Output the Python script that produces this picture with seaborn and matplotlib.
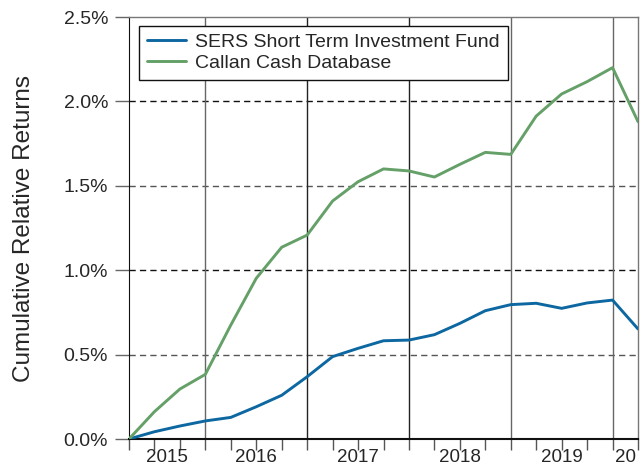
import numpy as np
import pandas as pd
import matplotlib
matplotlib.use("Agg")
import matplotlib.pyplot as plt
import seaborn as sns

# Quarterly cumulative relative returns (in %), starting 2015 Q1 end
quarters = [2015.25 + 0.25 * i for i in range(21)]
sers_fund = [0.000, 0.043, 0.077, 0.107, 0.128, 0.191, 0.259, 0.369, 0.488,
             0.537, 0.582, 0.586, 0.618, 0.685, 0.760, 0.796, 0.804, 0.774,
             0.806, 0.823, 0.652]
callan_cash = [0.000, 0.162, 0.296, 0.383, 0.675, 0.952, 1.136, 1.208, 1.410,
               1.524, 1.600, 1.588, 1.552, 1.627, 1.698, 1.686, 1.913, 2.044,
               2.117, 2.200, 1.880]
series_names = ["SERS Short Term Investment Fund", "Callan Cash Database"]
series_colors = ["#0D67A0", "#64A067"]
year_labels = ["2015", "2016", "2017", "2018", "2019", "20"]
year_starts = [2015, 2016, 2017, 2018, 2019, 2020]
y_ticks = [0.0, 0.5, 1.0, 1.5, 2.0, 2.5]

df = pd.DataFrame({
    "date": quarters * 2,
    "value": sers_fund + callan_cash,
    "series": [series_names[0]] * len(quarters) + [series_names[1]] * len(quarters),
})

sns.set_style("white")
plt.rcParams["font.family"] = ["Liberation Sans", "DejaVu Sans"]

fig = plt.figure(figsize=(6.44, 4.68), dpi=100)
ax = fig.add_axes([129 / 644, 1 - 439 / 468, (638 - 129) / 644, (439 - 17) / 468])

x0, x1 = quarters[0], quarters[-1]

# horizontal dashed gridlines, alternating gray / black
for i, yv in enumerate(y_ticks[1:-1]):
    col = "#555555" if i % 2 == 0 else "#111111"
    ax.axhline(yv, color=col, lw=1.0, ls=(0, (4.5, 3)), zorder=1)

# vertical year boundaries
for i, yr in enumerate(year_starts[1:]):
    col = "#222222" if i in (1, 2) else "#666666"
    ax.axvline(yr, color=col, lw=1.0, zorder=1)

sns.lineplot(data=df, x="date", y="value", hue="series", hue_order=series_names,
             palette=series_colors, linewidth=2.1, ax=ax, legend=False, zorder=3)

ax.set_xlim(x0, x1)
ax.set_ylim(0, 2.5)
ax.set_xticks(quarters)
ax.set_xticklabels([])
ax.set_yticks(y_ticks)
ax.set_yticklabels([f"{v:.1f}%" for v in y_ticks], fontsize=14)
ax.tick_params(axis="x", direction="out", length=8, width=1, color="#555555", bottom=True)
ax.tick_params(axis="y", direction="out", length=10, width=1, color="#666666", pad=5, left=True)
ax.set_xlabel("")
ax.set_ylabel("Cumulative Relative Returns", fontsize=17.5)
ax.yaxis.set_label_coords(-0.185, 0.5)

for side in ("top", "right"):
    ax.spines[side].set_color("#777777")
    ax.spines[side].set_linewidth(1.0)
ax.spines["left"].set_color("#111111")
ax.spines["bottom"].set_color("#111111")
ax.spines["bottom"].set_linewidth(1.5)

# year labels centered in the visible part of each year
for lab, yr in zip(year_labels, year_starts):
    lo, hi = max(yr, x0), min(yr + 1, x1)
    if hi - lo >= 0.5:
        ax.text((lo + hi) / 2, -0.024, lab, transform=ax.get_xaxis_transform(),
                ha="center", va="top", fontsize=13.5)
    else:
        ax.text(lo + 0.02, -0.024, lab, transform=ax.get_xaxis_transform(),
                ha="left", va="top", fontsize=13.5)

handles = [plt.Line2D([], [], color=c, lw=2.1) for c in series_colors]
leg = ax.legend(handles, series_names, loc="upper left", bbox_to_anchor=(0.0196, 0.979),
                borderaxespad=0, fontsize=14, frameon=True, fancybox=False, framealpha=1,
                edgecolor="#111111", handlelength=2.0, borderpad=0.4,
                labelspacing=0.15, handletextpad=0.5)
leg.get_frame().set_linewidth(1.0)

fig.savefig("out.png", dpi=100)
